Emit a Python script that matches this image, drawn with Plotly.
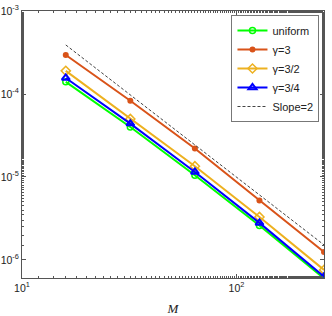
import plotly.graph_objects as go

M = [16, 32, 64, 128, 256]
uniform = [1.40e-4, 4.0e-5, 1.05e-5, 2.6e-6, 6.0e-7]
gamma3 = [2.95e-4, 8.3e-5, 2.2e-5, 5.2e-6, 1.25e-6]
gamma3_2 = [1.9e-4, 5.0e-5, 1.35e-5, 3.3e-6, 7.6e-7]
gamma3_4 = [1.56e-4, 4.4e-5, 1.15e-5, 2.8e-6, 6.3e-7]
slope_M = [16, 256]
slope2 = [3.9e-4, 1.52e-6]

x_tickvals = [10, 100]
x_ticktext = ["10<sup>1</sup>", "10<sup>2</sup>"]
y_tickvals = [1e-6, 1e-5, 1e-4, 1e-3]
y_ticktext = ["10<sup>-6</sup>", "10<sup>-5</sup>", "10<sup>-4</sup>", "10<sup>-3</sup>"]

fig = go.Figure()
fig.add_trace(go.Scatter(x=M, y=uniform, name="uniform", mode="lines+markers",
                         line=dict(color="#00FF00", width=2),
                         marker=dict(symbol="circle-open", size=6, color="#00FF00", line=dict(width=1.5))))
fig.add_trace(go.Scatter(x=M, y=gamma3, name="γ=3", mode="lines+markers",
                         line=dict(color="#D95319", width=2),
                         marker=dict(symbol="circle", size=6, color="#D95319")))
fig.add_trace(go.Scatter(x=M, y=gamma3_2, name="γ=3/2", mode="lines+markers",
                         line=dict(color="#EDB120", width=2),
                         marker=dict(symbol="diamond-open", size=7, color="#EDB120", line=dict(width=1.5))))
fig.add_trace(go.Scatter(x=M, y=gamma3_4, name="γ=3/4", mode="lines+markers",
                         line=dict(color="#0000FF", width=2),
                         marker=dict(symbol="triangle-up-open", size=7, color="#0000FF", line=dict(width=2))))
fig.add_trace(go.Scatter(x=slope_M, y=slope2, name="Slope=2", mode="lines",
                         line=dict(color="#444444", width=1, dash="3px,2px")))

axis_common = dict(
    type="log", showgrid=False, zeroline=False, showline=True, linecolor="#555555",
    linewidth=1, mirror="ticks", ticks="inside", ticklen=4, tickcolor="#555555",
    tickfont=dict(family="Liberation Sans, Arial", size=10.5, color="#222222"),
    minor=dict(ticks="inside", ticklen=2, tickcolor="#555555", showgrid=False),
    automargin=False,
)

fig.update_xaxes(**axis_common, range=[1, 2.4082], tickvals=x_tickvals, ticktext=x_ticktext,
                 title=dict(text="<i>M</i>", font=dict(family="Liberation Serif, Times New Roman", size=13, color="#222222"),
                            standoff=12))
fig.update_yaxes(**axis_common, range=[-6.217, -3], tickvals=y_tickvals, ticktext=y_ticktext, ticklabelstandoff=0)

fig.update_layout(
    width=332, height=316,
    margin=dict(l=22, r=8, t=11, b=38),
    paper_bgcolor="white", plot_bgcolor="white",
    font=dict(family="Liberation Sans, Arial", size=12, color="#222222"),
    legend=dict(x=0.985, y=0.985, xanchor="right", yanchor="top",
                bgcolor="white", bordercolor="#777777", borderwidth=1,
                font=dict(size=11), itemwidth=30, tracegroupgap=0),
    showlegend=True,
)

fig.write_html("out.html", config={"displayModeBar": False},
               post_script="document.body.style.margin='0';")
